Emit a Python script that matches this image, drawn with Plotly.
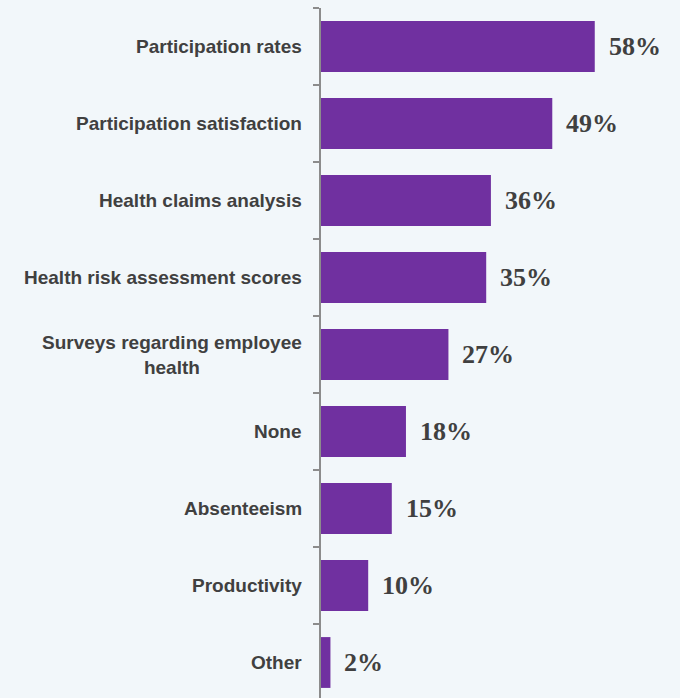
import plotly.graph_objects as go

# Survey results: measures used to evaluate wellness programs
categories = [
    "Participation rates",
    "Participation satisfaction",
    "Health claims analysis",
    "Health risk assessment scores",
    "Surveys regarding employee<br>health",
    "None",
    "Absenteeism",
    "Productivity",
    "Other",
]
values = [58, 49, 36, 35, 27, 18, 15, 10, 2]

BG = "#f2f7fa"
BAR = "#7030a0"
AXIS = "#8c8c8c"
TEXT = "#404040"

fig = go.Figure(
    go.Bar(
        x=values,
        y=categories,
        orientation="h",
        marker=dict(color=BAR, line=dict(width=0)),
        hoverinfo="skip",
    )
)

# category labels (centred multi-line text to the left of the axis)
for cat in categories:
    fig.add_annotation(
        x=0, xref="paper", y=cat, yref="y",
        text=cat, showarrow=False,
        xanchor="right", yanchor="middle", align="center",
        xshift=-17,
        font=dict(family="Liberation Sans, Arial", size=19, color=TEXT, weight="bold"),
    )

# value labels at the end of each bar
for cat, v in zip(categories, values):
    fig.add_annotation(
        x=v, xref="x", y=cat, yref="y",
        text=f"{v}%", showarrow=False,
        xanchor="left", yanchor="middle",
        xshift=12,
        font=dict(family="Liberation Serif, Times New Roman", size=26, color=TEXT, weight="bold"),
    )

fig.update_layout(
    width=680,
    height=698,
    margin=dict(l=321, r=0, t=8, b=0),
    paper_bgcolor=BG,
    plot_bgcolor=BG,
    bargap=0.34,
    showlegend=False,
    xaxis=dict(range=[0, 76.06], visible=False, fixedrange=True),
    yaxis=dict(
        type="category",
        categoryorder="array",
        categoryarray=categories,
        range=[8.461, -0.5],
        showline=True,
        linecolor=AXIS,
        linewidth=2,
        ticks="outside",
        tickson="boundaries",
        ticklen=6,
        tickwidth=2,
        tickcolor=AXIS,
        showticklabels=False,
        showgrid=False,
        zeroline=False,
    ),
)

fig.write_html("out.html")
